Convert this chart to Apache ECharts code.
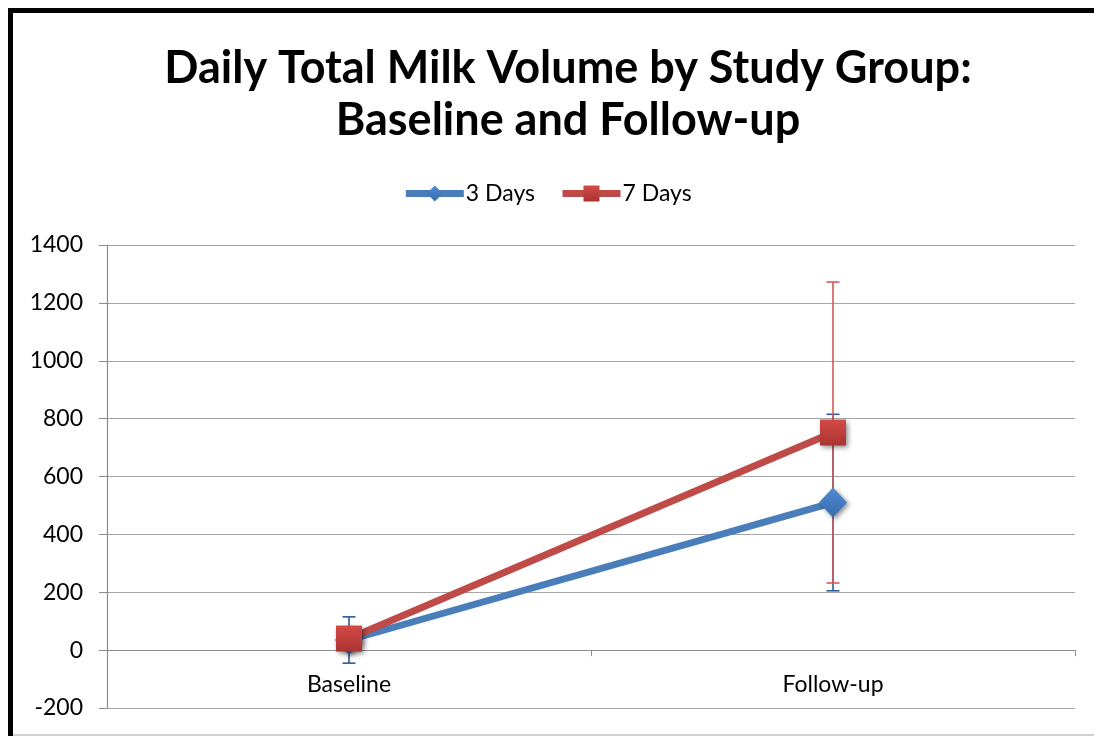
<!DOCTYPE html>
<html>
<head>
<meta charset="utf-8">
<script src="https://cdn.jsdelivr.net/npm/echarts@6/dist/echarts.min.js"></script>
<style>
html,body{margin:0;padding:0;background:#fff;overflow:hidden;width:100%;height:100%;}
#c{position:fixed;left:0;top:0;width:1094px;height:736px;}
</style>
</head>
<body>
<div id="c"></div>
<script>
var categories = ['Baseline', 'Follow-up'];
var seriesNames = ['3 Days', '7 Days'];
var days3 = [35, 510];
var days3Err = [80, 305];
var days7 = [40, 752];
var days7Err = [30, 520];
var yTicks = [-200, 0, 200, 400, 600, 800, 1000, 1200, 1400];

var FONT = 'Lato, "Open Sans", sans-serif';

function errSeries(means, errs, color) {
  var data = means.map(function (m, i) { return [i, m - errs[i], m + errs[i]]; });
  return {
    type: 'custom',
    silent: true,
    z: 1,
    clip: false,
    data: data,
    renderItem: function (params, api) {
      var x = api.value(0);
      var lo = api.coord([x, api.value(1)]);
      var hi = api.coord([x, api.value(2)]);
      var cw = 6.5;
      var st = { stroke: color, lineWidth: 1.6 };
      return {
        type: 'group',
        children: [
          { type: 'line', shape: { x1: hi[0], y1: hi[1], x2: lo[0], y2: lo[1] }, style: st },
          { type: 'line', shape: { x1: hi[0] - cw, y1: hi[1], x2: hi[0] + cw, y2: hi[1] }, style: st },
          { type: 'line', shape: { x1: lo[0] - cw, y1: lo[1], x2: lo[0] + cw, y2: lo[1] }, style: st }
        ]
      };
    }
  };
}

var chart = echarts.init(document.getElementById('c'), null, { renderer: 'canvas', width: 1094, height: 736 });
var option = {
  backgroundColor: '#fff',
  animation: false,
  title: {
    text: 'Daily Total Milk Volume by Study Group:\nBaseline and Follow-up',
    left: 563,
    textAlign: 'center',
    top: 37,
    textStyle: { fontFamily: FONT, fontWeight: 'bold', fontSize: 45, lineHeight: 52, color: '#000' }
  },
  legend: {
    data: seriesNames,
    top: 177,
    left: 'center',
    itemWidth: 58,
    itemHeight: 20,
    itemGap: 24,
    lineStyle: { width: 7 },
    textStyle: { fontFamily: FONT, fontSize: 23, color: '#000', padding: [0, 0, 0, -3] }
  },
  grid: { left: 107, right: 19, top: 245, bottom: 28, containLabel: false, outerBoundsMode: 'none' },
  xAxis: [{
    type: 'category',
    data: categories,
    boundaryGap: true,
    axisLine: { onZero: true, lineStyle: { color: '#8c8c8c', width: 1.2 } },
    axisTick: { show: true, length: 6, lineStyle: { color: '#8c8c8c' } },
    axisLabel: { show: false },
    splitLine: { show: false }
  }, {
    type: 'category',
    data: categories,
    position: 'bottom',
    boundaryGap: true,
    axisLine: { show: false, onZero: false },
    axisTick: { show: false },
    axisLabel: { fontFamily: FONT, fontSize: 23, color: '#000', margin: -35 },
    splitLine: { show: false }
  }],
  yAxis: {
    type: 'value',
    min: yTicks[0],
    max: yTicks[yTicks.length - 1],
    interval: 200,
    axisLine: { show: true, lineStyle: { color: '#8c8c8c', width: 1.2 } },
    axisTick: { show: true, length: 8, lineStyle: { color: '#8c8c8c' } },
    axisLabel: { fontFamily: FONT, fontSize: 23, color: '#000', margin: 24, formatter: function (v) { return String(v); } },
    splitLine: { show: true, lineStyle: { color: '#a6a6a6', width: 1.2 } }
  },
  series: [
    errSeries(days3, days3Err, '#2e5b9e'),
    errSeries(days7, days7Err, '#d05a5a'),
    {
      name: seriesNames[0],
      type: 'line',
      z: 2,
      data: days3,
      symbol: 'diamond',
      symbolSize: [28, 30],
      lineStyle: { color: '#4a7ebb', width: 7 },
      itemStyle: {
        color: new echarts.graphic.LinearGradient(0, 0, 0, 1, [
          { offset: 0, color: '#4f8ad3' },
          { offset: 1, color: '#386cad' }
        ]),
        shadowBlur: 5, shadowColor: 'rgba(0,0,0,0.45)', shadowOffsetX: 2, shadowOffsetY: 2
      }
    },
    {
      name: seriesNames[1],
      type: 'line',
      z: 3,
      data: days7,
      symbol: 'rect',
      symbolSize: 26,
      lineStyle: { color: '#be4b48', width: 7 },
      itemStyle: {
        color: new echarts.graphic.LinearGradient(0, 0, 0, 1, [
          { offset: 0, color: '#d44a46' },
          { offset: 1, color: '#a93431' }
        ]),
        shadowBlur: 5, shadowColor: 'rgba(0,0,0,0.45)', shadowOffsetX: 2, shadowOffsetY: 2
      }
    }
  ],
  graphic: [
    { type: 'rect', shape: { x: 8, y: 8, width: 1086, height: 5 }, style: { fill: '#000' } },
    { type: 'rect', shape: { x: 8, y: 8, width: 5, height: 728 }, style: { fill: '#000' } },
    { type: 'rect', shape: { x: 13, y: 734, width: 1081, height: 2 }, style: { fill: '#d0d0d0' } }
  ]
};
chart.setOption(option);
</script>
</body>
</html>
